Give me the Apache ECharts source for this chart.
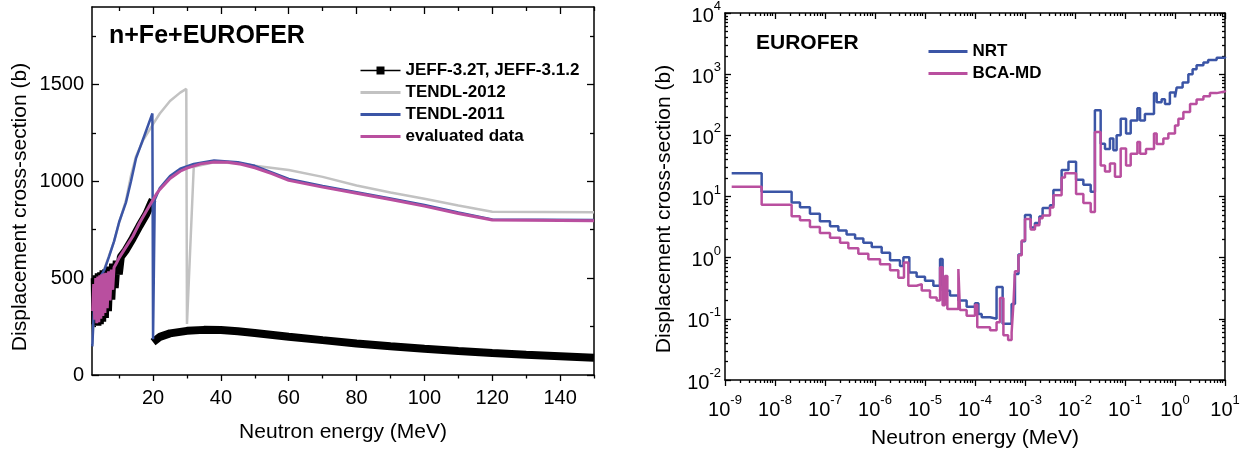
<!DOCTYPE html>
<html>
<head>
<meta charset="utf-8">
<script src="https://cdn.jsdelivr.net/npm/echarts@6.0.0/dist/echarts.min.js"></script>
<style>
html, body { margin: 0; background: #fff; }
#main { width: 1243px; height: 450px; }
</style>
</head>
<body>
<div id="main"></div>
<script>
var FONT = 'Liberation Sans';
var BLUE = '#3b55a6';
var PINK = '#b94f9f';
var GRAY = '#c2c2c2';

// left panel: n+Fe+EUROFER, neutron energy (MeV) vs displacement cross-section (b)
var jeffData = [
    [2.8, 500], [3.0, 262], [3.3, 515], [3.6, 255], [4.0, 525], [4.3, 262], [4.7, 530],
    [5.0, 275], [5.4, 540], [5.8, 295], [6.2, 545], [6.7, 330], [7.2, 560], [7.7, 390],
    [8.2, 575], [8.7, 450], [9.3, 590], [9.9, 520], [10.5, 610], [12, 645], [14, 705],
    [16, 770], [18, 830], [19.5, 890], [19.9, 905], [20, null],
    [20, 170], [22, 197], [25, 215], [30, 228], [35, 233], [40, 232], [45, 226], [50, 217],
    [60, 198], [70, 180], [80, 163], [90, 148], [100, 135], [110, 124], [120, 114],
    [130, 105], [140, 97], [150, 89]
];
var tendl2012Data = [
    [2.1, 160], [2.8, 445], [5.7, 550], [8.5, 690], [10, 785], [12, 900], [13.5, 1030],
    [15, 1130], [17, 1210], [20, 1295], [22, 1350], [25, 1415], [28, 1458], [29.8, 1477],
    [30, 263], [32, 1075], [38, 1098], [45, 1093], [50, 1080], [60, 1058], [70, 1023],
    [80, 978], [90, 942], [100, 910], [110, 875], [120, 843], [150, 840]
];
var tendl2011Data = [
    [2.1, 148], [2.8, 440], [4, 490], [5.7, 545], [7, 610], [8.5, 690], [10, 790],
    [12, 890], [13.5, 1000], [15, 1120], [17.4, 1234], [19.8, 1350], [20, 185],
    [20.5, 905], [22, 965], [25, 1027], [28, 1065], [32, 1090], [38, 1107], [45, 1098],
    [50, 1080], [60, 1012], [70, 976], [80, 944], [90, 912], [100, 878], [110, 839],
    [120, 803], [150, 800]
];
var evalData = [
    [2.2, 330], [2.5, 470], [2.8, 285], [3.1, 500], [3.4, 268], [3.7, 508], [4.0, 272],
    [4.3, 515], [4.6, 290], [4.9, 520], [5.2, 305], [5.5, 525], [5.8, 320], [6.1, 528],
    [6.5, 345], [6.9, 535], [7.3, 385], [7.7, 545], [8.1, 440], [8.5, 555], [9, 570],
    [10, 605], [12, 660], [14, 715], [16, 785], [18, 845], [20, 905], [21, 935], [22, 958],
    [25, 1015], [28, 1052], [30, 1068], [34, 1090], [38, 1100], [42, 1098], [46, 1088],
    [50, 1070], [55, 1040], [60, 1005], [70, 970], [80, 938], [90, 906], [100, 872],
    [110, 834], [120, 800], [150, 797]
];
var leftXLabels = [20, 40, 60, 80, 100, 120, 140];
var leftXMinor = [10, 30, 50, 70, 90, 110, 130, 150];
var leftYLabels = [0, 500, 1000, 1500];
var leftYMinor = [250, 750, 1250, 1750];

// right panel: EUROFER, group-wise values (each value holds up to the next energy)
var nrtData = [
    [1.36e-9, 23.9], [5.41e-9, 12.0], [2.15e-8, 8.0], [3.16e-8, 6.7], [5.0e-8, 5.24],
    [7.9e-8, 3.93], [1.26e-7, 3.27], [1.85e-7, 2.78], [2.7e-7, 2.39], [4.0e-7, 2.06],
    [5.85e-7, 1.75], [8.6e-7, 1.49], [1.36e-6, 1.2], [2.0e-6, 0.91], [3.16e-6, 0.73],
    [3.7e-6, 1.02], [4.86e-6, 0.57], [6.8e-6, 0.486], [1.0e-5, 0.42], [1.47e-5, 0.347],
    [2.0e-5, 0.95], [2.25e-5, 0.288], [3.16e-5, 0.24], [4.65e-5, 0.2], [6.8e-5, 0.158],
    [1.0e-4, 0.18], [1.17e-4, 0.12], [1.36e-4, 0.106], [2.0e-4, 0.1], [2.7e-4, 0.33],
    [3.57e-4, 0.083], [5.4e-4, 0.175], [6.3e-4, 0.54], [7.4e-4, 1.13], [8.6e-4, 1.86],
    [1.0e-3, 5.0], [1.3e-3, 3.1], [1.58e-3, 3.7], [1.94e-3, 4.7], [2.25e-3, 6.5],
    [3.16e-3, 7.2], [3.7e-3, 12.8], [5.4e-3, 27], [7.4e-3, 37], [1.05e-2, 18.7],
    [1.47e-2, 15.5], [2.06e-2, 12], [2.5e-2, 258], [3.26e-2, 73], [3.98e-2, 60],
    [5.0e-2, 89], [5.85e-2, 57], [6.8e-2, 100], [8.2e-2, 186], [0.105, 107], [0.13, 174],
    [0.177, 276], [0.2, 174], [0.25, 224], [0.38, 490], [0.43, 346], [0.54, 390],
    [0.63, 325], [0.79, 500], [1.0, 417], [1.08, 607], [1.42, 733], [1.85, 1000],
    [2.25, 1200], [2.7, 1400], [3.7, 1550], [4.6, 1700], [6.8, 1860], [10, 1920]
];
var bcaData = [
    [1.36e-9, 14.5], [5.41e-9, 7.3], [2.15e-8, 4.74], [3.16e-8, 4.08], [5.0e-8, 3.18],
    [7.9e-8, 2.54], [1.26e-7, 2.11], [2.0e-7, 1.75], [2.93e-7, 1.42], [4.64e-7, 1.16],
    [7.36e-7, 0.94], [1.26e-6, 0.78], [2.0e-6, 0.62], [2.93e-6, 0.47], [3.8e-6, 0.83],
    [4.64e-6, 0.347], [6.8e-6, 0.37], [8.6e-6, 0.29], [1.26e-5, 0.224], [1.71e-5, 0.2],
    [2.0e-5, 0.7], [2.25e-5, 0.166], [2.5e-5, 0.5], [2.8e-5, 0.145], [4.65e-5, 0.65],
    [5.0e-5, 0.14], [6.8e-5, 0.112], [1.0e-4, 0.17], [1.11e-4, 0.073], [2.0e-4, 0.065],
    [2.7e-4, 0.088], [3.16e-4, 0.22], [3.7e-4, 0.054], [4.6e-4, 0.045], [5.4e-4, 0.06],
    [5.9e-4, 0.19], [6.3e-4, 0.6], [7.4e-4, 1.1], [8.6e-4, 1.9], [1.0e-3, 4.3],
    [1.3e-3, 2.9], [1.58e-3, 3.4], [1.94e-3, 4.4], [2.25e-3, 4.9], [3.16e-3, 6.6],
    [3.7e-3, 10.5], [5.4e-3, 20.5], [6.3e-3, 24], [1.05e-2, 11], [1.47e-2, 7.8],
    [2.06e-2, 5.6], [2.5e-2, 113], [3.26e-2, 32], [3.98e-2, 25.6], [5.0e-2, 34.7],
    [6.3e-2, 21], [8.2e-2, 61], [0.105, 32], [0.13, 50], [0.177, 78], [0.2, 50],
    [0.263, 60], [0.38, 107], [0.43, 72], [0.585, 89], [0.736, 107], [1.0, 145],
    [1.17, 186], [1.47, 240], [2.0, 325], [2.7, 384], [3.7, 435], [5.0, 490],
    [6.8, 520], [10, 540]
];
var rightXExp = [-9, -8, -7, -6, -5, -4, -3, -2, -1, 0, 1];
var rightYExp = [-2, -1, 0, 1, 2, 3, 4];

function decades(exps) {
    return exps.map(function (e) { return Math.pow(10, e); });
}
function minorDecades(exps) {
    var out = [];
    for (var i = 0; i < exps.length - 1; i++) {
        for (var k = 2; k < 10; k++) out.push(k * Math.pow(10, exps[i]));
    }
    return out;
}
function powLabel(v) {
    return '{b|10}{s|' + Math.round(Math.log(v) / Math.LN10) + '}';
}
var powRich = {
    b: { fontFamily: FONT, fontSize: 20, color: '#000', lineHeight: 26, verticalAlign: 'bottom' },
    s: { fontFamily: FONT, fontSize: 13, color: '#000', lineHeight: 14, verticalAlign: 'top' }
};

// one axis of the frame; several per side (major + minor ticks)
function axis(dim, o) {
    var a = {
        type: o.log ? 'log' : 'value',
        gridIndex: o.grid,
        position: o.pos,
        min: o.min,
        max: o.max,
        axisLine: { show: !!o.line, onZero: false, lineStyle: { color: '#000', width: 1.5 } },
        axisTick: {
            show: true, customValues: o.ticks, inside: !!o.inside, length: o.len,
            lineStyle: { color: '#000', width: 1.3 }
        },
        axisLabel: { show: false },
        splitLine: { show: false }
    };
    if (o.log) a.logBase = 10;
    if (o.labels) {
        a.axisLabel = {
            show: true, customValues: o.labels, margin: o.margin,
            fontFamily: FONT, fontSize: 20, color: '#000',
            formatter: function (v) { return String(v); }
        };
        if (o.log) {
            a.axisLabel.formatter = powLabel;
            a.axisLabel.rich = powRich;
        }
    }
    return a;
}

var rxMaj = decades(rightXExp), rxMin = minorDecades(rightXExp);
var ryMaj = decades(rightYExp), ryMin = minorDecades(rightYExp);

var xAxes = [
    axis('x', { grid: 0, pos: 'bottom', min: 2, max: 150, line: true, ticks: leftXLabels, len: 6, labels: leftXLabels, margin: 13 }),
    axis('x', { grid: 0, pos: 'bottom', min: 2, max: 150, ticks: leftXMinor, len: 3.5 }),
    axis('x', { grid: 0, pos: 'top', min: 2, max: 150, line: true, ticks: leftXLabels, len: 7, inside: true }),
    axis('x', { grid: 0, pos: 'top', min: 2, max: 150, ticks: leftXMinor, len: 4, inside: true }),
    axis('x', { grid: 1, pos: 'bottom', log: true, min: 1e-9, max: 10, line: true, ticks: rxMaj, len: 6, labels: rxMaj, margin: 14 }),
    axis('x', { grid: 1, pos: 'bottom', log: true, min: 1e-9, max: 10, ticks: rxMin, len: 3 }),
    axis('x', { grid: 1, pos: 'top', log: true, min: 1e-9, max: 10, line: true, ticks: rxMaj, len: 6, inside: true }),
    axis('x', { grid: 1, pos: 'top', log: true, min: 1e-9, max: 10, ticks: rxMin, len: 3, inside: true })
];
var yAxes = [
    axis('y', { grid: 0, pos: 'left', min: 0, max: 1900, line: true, ticks: leftYLabels, len: 7, inside: true, labels: leftYLabels, margin: 8 }),
    axis('y', { grid: 0, pos: 'left', min: 0, max: 1900, ticks: leftYMinor, len: 4, inside: true }),
    axis('y', { grid: 0, pos: 'right', min: 0, max: 1900, line: true, ticks: leftYLabels, len: 7, inside: true }),
    axis('y', { grid: 0, pos: 'right', min: 0, max: 1900, ticks: leftYMinor, len: 4, inside: true }),
    axis('y', { grid: 1, pos: 'left', log: true, min: 0.01, max: 1e4, line: true, ticks: ryMaj, len: 6, inside: true, labels: ryMaj, margin: 4 }),
    axis('y', { grid: 1, pos: 'left', log: true, min: 0.01, max: 1e4, ticks: ryMin, len: 3, inside: true }),
    axis('y', { grid: 1, pos: 'right', log: true, min: 0.01, max: 1e4, line: true, ticks: ryMaj, len: 6, inside: true }),
    axis('y', { grid: 1, pos: 'right', log: true, min: 0.01, max: 1e4, ticks: ryMin, len: 3, inside: true })
];

function titleText(x, y, text, size, bold, rot) {
    return {
        type: 'text', x: x, y: y, rotation: rot || 0,
        style: {
            text: text, fontFamily: FONT, fontSize: size, fontWeight: bold ? 'bold' : 'normal',
            fill: '#000', align: bold ? 'left' : 'center', verticalAlign: 'middle'
        }
    };
}

var legendText = { fontFamily: FONT, fontWeight: 'bold', fontSize: 17, color: '#000' };
// plain line icon in the legend (hide the default marker)
var noMarker = { color: 'rgba(0,0,0,0)', borderColor: 'rgba(0,0,0,0)', borderWidth: 0 };

var option = {
    animation: false,
    backgroundColor: '#fff',
    grid: [
        { left: 92, top: 7, width: 502, height: 368 },
        { left: 725, top: 10, width: 500, height: 370 }
    ],
    xAxis: xAxes,
    yAxis: yAxes,
    legend: [
        {
            orient: 'vertical', left: 354, top: 57, itemWidth: 40, itemHeight: 10, itemGap: 5,
            selectedMode: false, textStyle: legendText,
            data: [
                { name: 'JEFF-3.2T, JEFF-3.1.2', lineStyle: { width: 1.5 } },
                { name: 'TENDL-2012', itemStyle: noMarker, lineStyle: { width: 3 } },
                { name: 'TENDL-2011', itemStyle: noMarker, lineStyle: { width: 3 } },
                { name: 'evaluated data', itemStyle: noMarker, lineStyle: { width: 3 } }
            ]
        },
        {
            orient: 'vertical', left: 922, top: 38, itemWidth: 39, itemHeight: 10, itemGap: 5,
            selectedMode: false, textStyle: legendText,
            data: [
                { name: 'NRT', itemStyle: noMarker, lineStyle: { width: 3 } },
                { name: 'BCA-MD', itemStyle: noMarker, lineStyle: { width: 3 } }
            ]
        }
    ],
    graphic: [
        titleText(109, 36, 'n+Fe+EUROFER', 25, true),
        titleText(756, 43, 'EUROFER', 21, true),
        titleText(343, 432, 'Neutron energy (MeV)', 21),
        titleText(975, 438, 'Neutron energy (MeV)', 21),
        titleText(20, 207, 'Displacement cross-section (b)', 21, false, Math.PI / 2),
        titleText(664, 209, 'Displacement cross-section (b)', 21, false, Math.PI / 2)
    ],
    series: [
        {
            name: 'TENDL-2012', type: 'line', xAxisIndex: 0, yAxisIndex: 0, data: tendl2012Data,
            symbol: 'none', lineStyle: { color: GRAY, width: 2.5 }, itemStyle: { color: GRAY }
        },
        {
            name: 'JEFF-3.2T, JEFF-3.1.2', type: 'line', xAxisIndex: 0, yAxisIndex: 0, data: jeffData,
            symbol: 'rect', symbolSize: 9, showSymbol: false, connectNulls: false,
            lineStyle: { color: '#000', width: 8 }, itemStyle: { color: '#000' }
        },
        {
            name: 'TENDL-2011', type: 'line', xAxisIndex: 0, yAxisIndex: 0, data: tendl2011Data,
            symbol: 'none', lineStyle: { color: BLUE, width: 2.5 }, itemStyle: { color: BLUE }
        },
        {
            name: 'evaluated data', type: 'line', xAxisIndex: 0, yAxisIndex: 0, data: evalData,
            symbol: 'none', lineStyle: { color: PINK, width: 3 }, itemStyle: { color: PINK }
        },
        {
            name: 'NRT', type: 'line', step: 'end', xAxisIndex: 4, yAxisIndex: 4, data: nrtData,
            symbol: 'none', lineStyle: { color: BLUE, width: 2.5 }, itemStyle: { color: BLUE }
        },
        {
            name: 'BCA-MD', type: 'line', step: 'end', xAxisIndex: 4, yAxisIndex: 4, data: bcaData,
            symbol: 'none', lineStyle: { color: PINK, width: 2.5 }, itemStyle: { color: PINK }
        }
    ]
};

var chart = echarts.init(document.getElementById('main'));
chart.setOption(option);
</script>
</body>
</html>
